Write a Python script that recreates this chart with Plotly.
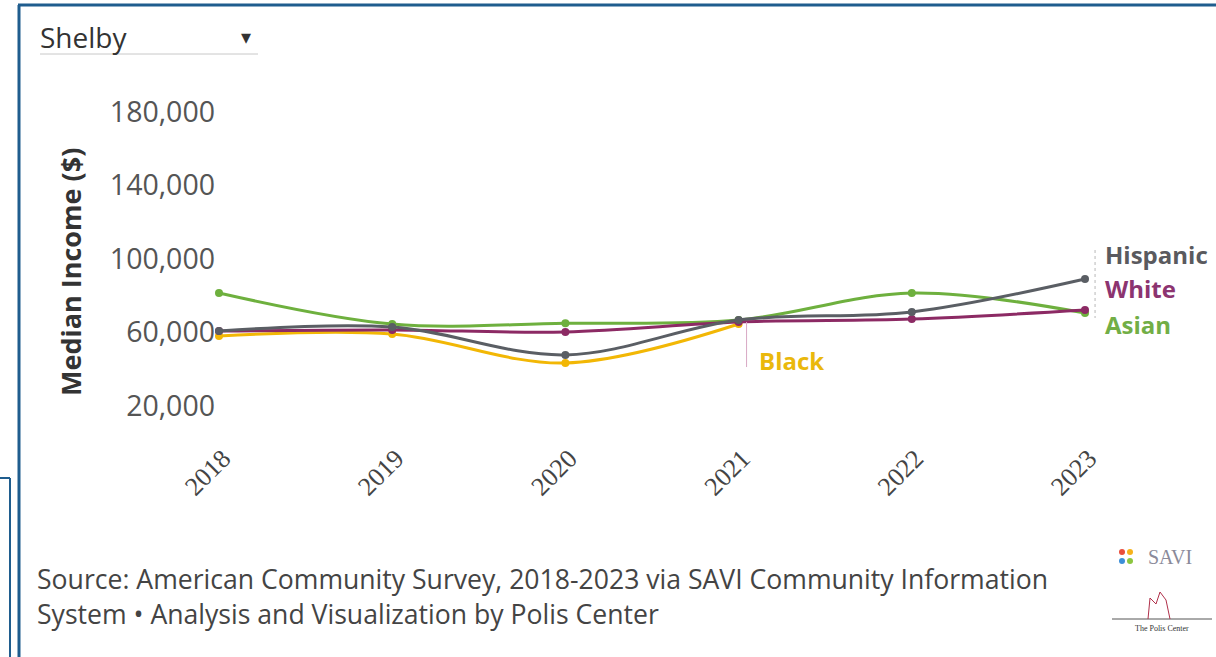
import plotly.graph_objects as go

years = [2018, 2019, 2020, 2021, 2022, 2023]
asian = [81500, 64600, 65000, 66800, 81500, 70600]
hispanic = [60800, 63000, 47800, 66800, 71200, 89100]
white = [60800, 61400, 60300, 65700, 67300, 72200]
black_years = [2018, 2019, 2020, 2021]
black = [58100, 59200, 43400, 64600]
y_ticks = [20000, 60000, 100000, 140000, 180000]

series = [
    ("Black", black_years, black, "#f2b705"),
    ("Asian", years, asian, "#6eb03e"),
    ("White", years, white, "#8c2a64"),
    ("Hispanic", years, hispanic, "#5a5e64"),
]

W, H = 1216, 657
ML, MR, MT, MB = 216, 100, 80, 220
PW, PH = W - ML - MR, H - MT - MB


def px(x):
    return (x - ML) / PW


def py(y):
    return (H - MB - y) / PH


fig = go.Figure()
for name, xs, ys, col in series:
    fig.add_trace(go.Scatter(
        x=xs, y=ys, name=name, mode="lines+markers",
        line=dict(color=col, width=3, shape="spline", smoothing=1),
        marker=dict(color=col, size=8),
        cliponaxis=False, showlegend=False,
        hovertemplate="%{x}: %{y:,}<extra>" + name + "</extra>",
    ))

font_main = "Open Sans, Noto Sans, sans-serif"

annotations = [
    dict(x=2021.104, y=45000, xref="x", yref="y", text="<b>Black</b>", showarrow=False,
         xanchor="left", yanchor="middle", font=dict(color="#eab80c", size=24, family=font_main)),
    dict(x=2023.104, y=102700, xref="x", yref="y", text="<b>Hispanic</b>", showarrow=False,
         xanchor="left", yanchor="middle", font=dict(color="#5a5a5e", size=24, family=font_main)),
    dict(x=2023.104, y=83700, xref="x", yref="y", text="<b>White</b>", showarrow=False,
         xanchor="left", yanchor="middle", font=dict(color="#8c3470", size=24, family=font_main)),
    dict(x=2023.104, y=64100, xref="x", yref="y", text="<b>Asian</b>", showarrow=False,
         xanchor="left", yanchor="middle", font=dict(color="#72ae46", size=24, family=font_main)),
    dict(x=px(70), y=py(272), xref="paper", yref="paper", text="<b>Median Income ($)</b>",
         textangle=-90, showarrow=False, xanchor="center", yanchor="middle",
         font=dict(color="#333333", size=27, family=font_main)),
    dict(x=px(38), y=py(37), xref="paper", yref="paper", text="Shelby", showarrow=False,
         xanchor="left", yanchor="middle", font=dict(color="#333333", size=28, family=font_main)),
    dict(x=px(246), y=py(36), xref="paper", yref="paper", text="▾", showarrow=False,
         xanchor="center", yanchor="middle", font=dict(color="#333333", size=20, family=font_main)),
    dict(x=px(35), y=py(596), xref="paper", yref="paper",
         text="Source: American Community Survey, 2018-2023 via SAVI Community Information<br>System • Analysis and Visualization by Polis Center",
         showarrow=False, xanchor="left", yanchor="middle", align="left",
         font=dict(color="#444444", size=26.6, family=font_main)),
    dict(x=px(1170), y=py(557), xref="paper", yref="paper", text="SAVI", showarrow=False,
         xanchor="center", yanchor="middle", font=dict(color="#8a8a9a", size=20, family="Liberation Serif")),
    dict(x=px(1162), y=py(628), xref="paper", yref="paper", text="The Polis Center", showarrow=False,
         xanchor="center", yanchor="middle", font=dict(color="#333333", size=8, family="Liberation Serif")),
]

blue = "#1f5d8e"
shapes = [
    dict(type="line", xref="paper", yref="paper", x0=px(18), x1=px(1216), y0=py(5), y1=py(5),
         line=dict(color=blue, width=3)),
    dict(type="line", xref="paper", yref="paper", x0=px(19), x1=px(19), y0=py(5), y1=py(657),
         line=dict(color=blue, width=3)),
    dict(type="line", xref="paper", yref="paper", x0=px(0), x1=px(10), y0=py(478), y1=py(478),
         line=dict(color=blue, width=2)),
    dict(type="line", xref="paper", yref="paper", x0=px(10), x1=px(10), y0=py(478), y1=py(657),
         line=dict(color=blue, width=2)),
    dict(type="line", xref="paper", yref="paper", x0=px(40), x1=px(258), y0=py(54), y1=py(54),
         line=dict(color="#c8c8c8", width=1)),
    dict(type="line", xref="x", yref="y", x0=2021.046, x1=2021.046, y0=65700, y1=41200,
         line=dict(color="#d8a8c4", width=1)),
    dict(type="line", xref="x", yref="y", x0=2023.058, x1=2023.058, y0=104900, y1=67900,
         line=dict(color="#b8b8b8", width=1, dash="dot")),
    dict(type="line", xref="paper", yref="paper", x0=px(1112), x1=px(1212), y0=py(619), y1=py(619),
         line=dict(color="#555555", width=1)),
    dict(type="path", xref="paper", yref="paper",
         path=f"M {px(1148)},{py(619)} L {px(1150)},{py(598)} L {px(1156)},{py(604)} L {px(1160)},{py(592)} L {px(1166)},{py(600)} L {px(1170)},{py(619)}",
         line=dict(color="#b0304a", width=1)),
]
for cx, cy, col in [(1122, 552, "#e94e3c"), (1130, 552, "#f6b21b"), (1122, 561, "#3c8fd8"), (1130, 561, "#8cc63f")]:
    shapes.append(dict(type="circle", xref="paper", yref="paper",
                       x0=px(cx - 3), x1=px(cx + 3), y0=py(cy - 3), y1=py(cy + 3),
                       fillcolor=col, line=dict(width=0)))

fig.update_layout(
    width=W, height=H,
    margin=dict(l=ML, r=MR, t=MT, b=MB, pad=0),
    paper_bgcolor="white", plot_bgcolor="white",
    annotations=annotations, shapes=shapes,
    xaxis=dict(
        range=[2018 - 3 / 173.2, 2023 + 31 / 173.2],
        tickmode="array", tickvals=years, ticktext=[str(y) for y in years],
        tickangle=-45, showgrid=False, zeroline=False, showline=False,
        ticklabelshift=4,
        tickfont=dict(family="Liberation Serif", size=26, color="#444444"),
    ),
    yaxis=dict(
        range=[3129, 197415],
        tickmode="array", tickvals=y_ticks,
        tickformat=",d", showgrid=False, zeroline=False, showline=False,
        tickfont=dict(family=font_main, size=28.5, color="#555555"),
    ),
)

fig.write_html(
    "out.html",
    config={"displayModeBar": False},
    post_script="document.body.style.margin='0';document.documentElement.style.overflow='hidden';document.body.style.overflow='hidden';",
)
